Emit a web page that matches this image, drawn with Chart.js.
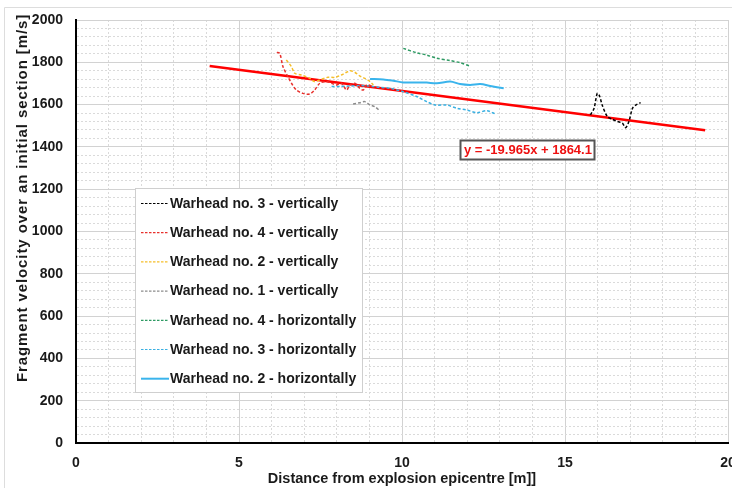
<!DOCTYPE html>
<html>
<head>
<meta charset="utf-8">
<script src="https://cdn.jsdelivr.net/npm/chart.js@4"></script>
<style>
  html, body { margin: 0; padding: 0; background: #fff; }
  #wrap { width: 732px; height: 488px; }
</style>
</head>
<body>
<div id="wrap"><canvas id="grafico" width="732" height="488"></canvas></div>
<script>
// distance [m] / velocity [m/s] for each warhead and direction
const w3vX = [15.78, 15.89, 15.99, 16.06, 16.14, 16.30, 16.45, 16.61, 16.76, 16.86, 16.96, 17.07, 17.17, 17.32];
const w3vY = [1551, 1582, 1653, 1641, 1598, 1543, 1531, 1520, 1512, 1491, 1520, 1582, 1598, 1609];

const w4vX = [6.16, 6.25, 6.35, 6.50, 6.61, 6.76, 6.96, 7.17, 7.32, 7.48, 7.68, 7.84, 7.99, 8.14, 8.30, 8.40, 8.55, 8.71, 8.81, 8.91, 9.07];
const w4vY = [1847, 1842, 1779, 1732, 1701, 1669, 1653, 1650, 1669, 1701, 1709, 1701, 1693, 1701, 1669, 1693, 1701, 1677, 1669, 1693, 1688];

const w2vX = [6.45, 6.61, 6.71, 6.91, 7.17, 7.32, 7.53, 7.73, 7.94, 8.14, 8.30, 8.42, 8.55, 8.71, 8.86, 9.02, 9.12];
const w2vY = [1811, 1779, 1748, 1740, 1724, 1709, 1720, 1729, 1729, 1740, 1753, 1760, 1753, 1735, 1724, 1709, 1693];

const w1vX = [8.50, 8.71, 8.86, 9.02, 9.17, 9.32];
const w1vY = [1603, 1609, 1614, 1598, 1590, 1570];

const w4hX = [10.04, 10.45, 10.76, 11.07, 11.48, 11.78, 12.09];
const w4hY = [1866, 1845, 1834, 1819, 1808, 1798, 1782];

const w3hX = [7.84, 8.10, 8.40, 8.70, 9.00, 9.30, 9.63, 10.04, 10.45, 10.76, 11.02, 11.38, 11.68, 11.99, 12.30, 12.61, 12.86];
const w3hY = [1685, 1686, 1688, 1690, 1688, 1682, 1677, 1661, 1638, 1614, 1598, 1598, 1583, 1574, 1562, 1571, 1556];

const w2hX = [9.02, 9.43, 9.73, 10.04, 10.45, 10.76, 11.07, 11.48, 11.78, 12.09, 12.40, 12.71, 13.12];
const w2hY = [1721, 1719, 1713, 1705, 1705, 1704, 1701, 1709, 1697, 1693, 1697, 1688, 1677];

// linear trend y = a*x + b over all series
const trendSlope = -19.965;
const trendIntercept = 1864.1;
const trendX = [4.1, 19.3];

const xTicks = [0, 5, 10, 15, 20];
const yTicks = [0, 200, 400, 600, 800, 1000, 1200, 1400, 1600, 1800, 2000];

const font = '"Liberation Sans", Arial, sans-serif';

function pares(xs, ys) {
    return xs.map((x, i) => ({ x: x, y: ys[i] }));
}

function serie(label, xs, ys, cor, tracejado, largura) {
    return {
        label: label,
        data: pares(xs, ys),
        borderColor: cor,
        backgroundColor: cor,
        borderWidth: largura,
        borderDash: tracejado,
        showLine: true,
        pointRadius: 0,
        tension: 0.3
    };
}

const datasets = [
    serie('Warhead no. 3 - vertically', w3vX, w3vY, '#000000', [3, 2], 1.5),
    serie('Warhead no. 4 - vertically', w4vX, w4vY, '#e8302c', [3, 2], 1.5),
    serie('Warhead no. 2 - vertically', w2vX, w2vY, '#f5be2a', [3, 2], 1.5),
    serie('Warhead no. 1 - vertically', w1vX, w1vY, '#8c8c8c', [3, 2], 1.5),
    serie('Warhead no. 4 - horizontally', w4hX, w4hY, '#2e9a63', [3, 2], 1.5),
    serie('Warhead no. 3 - horizontally', w3hX, w3hY, '#3ab0e2', [3, 2], 1.5),
    serie('Warhead no. 2 - horizontally', w2hX, w2hY, '#3ab4ec', [], 2)
];

// trend line from the stated equation
const trend = {
    label: 'trend',
    data: trendX.map(x => ({ x: x, y: trendSlope * x + trendIntercept })),
    borderColor: '#ff0000',
    borderWidth: 2.5,
    showLine: true,
    pointRadius: 0,
    tension: 0,
    trend: true
};

/* legend box, axis titles and equation label */
const extras = {
    id: 'extras',
    afterDatasetsDraw(chart) {
        const ctx = chart.ctx;
        ctx.save();

        // legend
        ctx.fillStyle = '#ffffff';
        ctx.fillRect(135.5, 188.5, 227, 204);
        ctx.strokeStyle = '#cfcfcf';
        ctx.lineWidth = 1;
        ctx.strokeRect(135.5, 188.5, 227, 204);

        ctx.font = 'bold 14px ' + font;
        ctx.textBaseline = 'middle';
        ctx.textAlign = 'left';

        chart.data.datasets
            .filter(d => !d.trend)
            .forEach((d, i) => {
                const y = 203.5 + i * 29.2;
                ctx.beginPath();
                ctx.strokeStyle = d.borderColor;
                ctx.lineWidth = d.borderDash.length ? 1.2 : 2;
                ctx.setLineDash(d.borderDash.length ? [2.5, 1.5] : []);
                ctx.moveTo(141, y);
                ctx.lineTo(169, y);
                ctx.stroke();
                ctx.setLineDash([]);
                ctx.fillStyle = '#1a1a1a';
                ctx.fillText(d.label, 170, y + 0.5);
            });

        // equation
        const texto = 'y = ' + trendSlope + 'x + ' + trendIntercept;
        ctx.fillStyle = '#ffffff';
        ctx.fillRect(460.5, 140.5, 134, 19);
        ctx.strokeStyle = '#555555';
        ctx.strokeRect(460.5, 140.5, 134, 19);
        ctx.fillStyle = '#ee1111';
        ctx.font = 'bold 13px ' + font;
        ctx.fillText(texto, 464, 150.5);

        ctx.restore();
    },
    afterDraw(chart) {
        const ctx = chart.ctx;
        const area = chart.chartArea;
        ctx.save();
        ctx.fillStyle = '#1a1a1a';
        ctx.textBaseline = 'middle';
        ctx.textAlign = 'center';

        ctx.font = 'bold 14.5px ' + font;
        ctx.fillText('Distance from explosion epicentre [m]]', (area.left + area.right) / 2, 479);

        ctx.font = 'bold 15px ' + font;
        ctx.letterSpacing = '0.9px';
        ctx.translate(23, 198);
        ctx.rotate(-Math.PI / 2);
        ctx.fillText('Fragment velocity over an initial section [m/s]', 0, 0);
        ctx.restore();

        // outer frame
        ctx.save();
        ctx.strokeStyle = '#dddddd';
        ctx.lineWidth = 1;
        ctx.beginPath();
        ctx.moveTo(4.5, 488);
        ctx.lineTo(4.5, 7.5);
        ctx.lineTo(732, 7.5);
        ctx.stroke();
        ctx.restore();
    }
};

function corGrade(passo) {
    return c => (c.tick && c.tick.value % passo === 0) ? '#d2d2d2' : '#dadada';
}

function tracoGrade(passo) {
    return c => (c.tick && c.tick.value % passo === 0) ? [] : [2, 2];
}

new Chart(document.getElementById('grafico'), {
    type: 'scatter',
    data: { datasets: [...datasets, trend] },
    options: {
        responsive: false,
        devicePixelRatio: 1,
        animation: false,
        layout: { padding: { top: 20, right: 4, left: 0, bottom: 0 } },
        plugins: {
            legend: { display: false },
            tooltip: { enabled: false }
        },
        scales: {
            x: {
                type: 'linear',
                min: 0,
                max: 20,
                afterFit: s => {
                    s.height = 45;
                    s.paddingLeft = 0;
                    s.paddingRight = 0;
                },
                ticks: {
                    stepSize: 1,
                    autoSkip: false,
                    maxRotation: 0,
                    padding: 12,
                    color: '#1a1a1a',
                    font: { family: font, size: 14, weight: 'bold' },
                    callback: v => xTicks.includes(v) ? v : ''
                },
                grid: {
                    drawTicks: false,
                    lineWidth: 1,
                    color: corGrade(5)
                },
                border: {
                    color: '#000000',
                    width: 2,
                    dash: tracoGrade(5)
                }
            },
            y: {
                min: 0,
                max: 2000,
                afterFit: s => {
                    s.width = 76;
                    s.paddingTop = 0;
                    s.paddingBottom = 0;
                },
                ticks: {
                    stepSize: 40,
                    autoSkip: false,
                    padding: 13,
                    color: '#1a1a1a',
                    font: { family: font, size: 14, weight: 'bold' },
                    callback: v => yTicks.includes(v) ? v : ''
                },
                grid: {
                    drawTicks: false,
                    lineWidth: 1,
                    color: corGrade(200)
                },
                border: {
                    color: '#000000',
                    width: 2,
                    dash: tracoGrade(200)
                }
            }
        }
    },
    plugins: [extras]
});
</script>
</body>
</html>
